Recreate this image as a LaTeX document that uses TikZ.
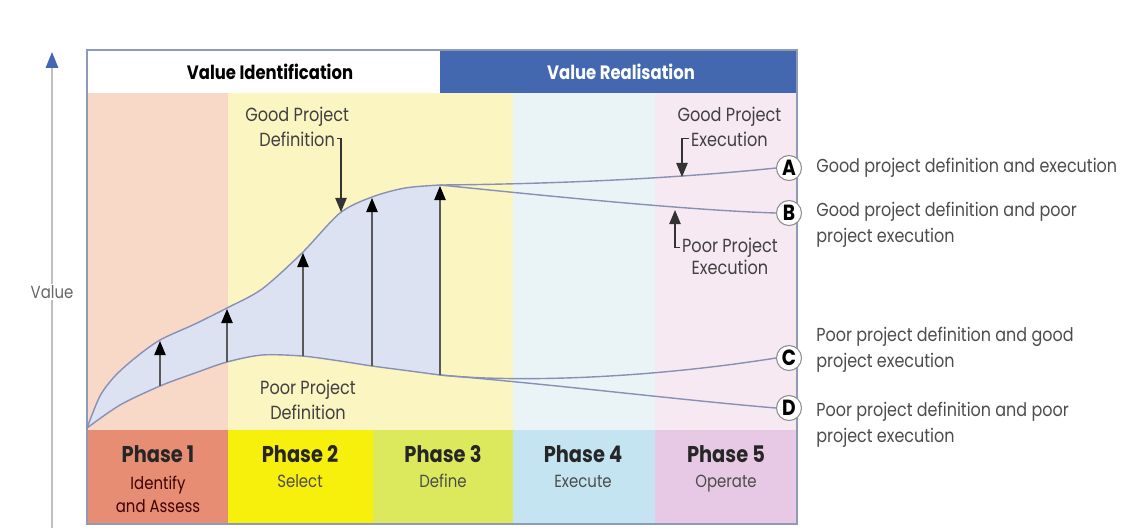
\documentclass[tikz,border=0pt]{standalone}
\usepackage{fontspec}
\setmainfont{Poppins}[FakeStretch=0.85]
\usetikzlibrary{arrows.meta,positioning}
\definecolor{headblue}{HTML}{4468B0}
\definecolor{ph1light}{HTML}{F8D9C8}
\definecolor{ph2light}{HTML}{FBF5C2}
\definecolor{ph4light}{HTML}{EAF4F7}
\definecolor{ph5light}{HTML}{F6E9F1}
\definecolor{ph1col}{HTML}{E68D74}
\definecolor{ph2col}{HTML}{F7EF0C}
\definecolor{ph3col}{HTML}{DCE95C}
\definecolor{ph4col}{HTML}{C3E4F0}
\definecolor{ph5col}{HTML}{E7C9E5}
\definecolor{bandcol}{HTML}{DDE2F3}
\definecolor{linecol}{HTML}{8890B4}
\definecolor{framecol}{HTML}{8E9ABA}

\begin{document}
\begin{tikzpicture}[x=0.02cm, y=-0.02cm,
    curve/.style={linecol, line width=0.8pt},
    rise/.style={black!65, line width=0.6pt, -{Triangle[length=8pt,width=6.5pt,color=black]}},
    lead/.style={black!80, line width=0.6pt, -{Triangle[length=8pt,width=6.5pt]}},
    axis/.style={black!25, line width=1pt, -{Triangle[length=9pt,width=7pt,color=headblue]}},
    endmark/.style={circle, draw=black!45, fill=white, line width=0.6pt, inner sep=0pt,
        minimum size=0.5cm, font=\bfseries\fontsize{12.5}{13}\selectfont},
    note/.style={font=\fontsize{10.8}{14}\selectfont, text=black!75, align=center, inner sep=1pt},
    caption/.style={font=\fontsize{10.7}{14.8}\selectfont, text=black!70, align=left, anchor=west, inner sep=0pt},
    headtext/.style={font=\bfseries\fontsize{11}{13}\selectfont},
    phasetitle/.style={font=\bfseries\fontsize{13}{15}\selectfont, text=black!85, anchor=base},
    phasesub/.style={font=\fontsize{10}{13}\selectfont, text=black!70, align=center, anchor=base}]

\useasboundingbox (0,0) rectangle (1137,529);

% upper part of the phases
\fill[ph1light] (87,93) rectangle (228,430);
\fill[ph2light] (228,93) rectangle (513,430);
\fill[ph4light] (513,93) rectangle (655,430);
\fill[ph5light] (655,93) rectangle (797,430);

% phase bands
\fill[ph1col] (87,430) rectangle (228,524);
\fill[ph2col] (228,430) rectangle (373,524);
\fill[ph3col] (373,430) rectangle (513,524);
\fill[ph4col] (513,430) rectangle (655,524);
\fill[ph5col] (655,430) rectangle (797,524);

% header
\fill[white] (87,50) rectangle (440,93);
\fill[headblue] (440,50) rectangle (797,93);
\draw[framecol, line width=0.6pt] (87,50) rectangle (797,524);

\node[headtext] (vid) at (270,72) {Value Identification};
\node[headtext, text=white] (vre) at (621,72) {Value Realisation};

% value axis
\coordinate (axbot) at (52,528);
\coordinate (axtop) at (52,52);
\draw[axis] (axbot) -- (axtop);
\node[fill=white, inner sep=1pt, text=black!60, font=\fontsize{10}{12}\selectfont] (vlab) at (52,292) {Value};

% value band between good and poor definition
\fill[bandcol] plot[smooth] coordinates {(87,428) (100,396) (115,376) (135,358) (160,340) (195,324) (227,308) (262,289) (302,253) (340,213) (372,197) (405,188) (440,185)}
    -- plot[smooth] coordinates {(440,375) (410,371) (372,366) (340,361) (302,356) (262,355) (227,362) (195,373) (160,386) (120,405) (87,428)} -- cycle;
\draw[curve] plot[smooth] coordinates {(87,428) (100,396) (115,376) (135,358) (160,340) (195,324) (227,308) (262,289) (302,253) (340,213) (372,197) (405,188) (440,185)};
\draw[curve] plot[smooth] coordinates {(87,428) (120,405) (160,386) (195,373) (227,362) (262,355) (302,356) (340,361) (372,366) (410,371) (440,375)};

\coordinate (gsplit) at (440,185);
\coordinate (psplit) at (440,375);

% outcomes
\node[endmark] (ca) at (789,168) {A};
\node[endmark] (cb) at (789,213) {B};
\node[endmark] (cc) at (789,358) {C};
\node[endmark] (cd) at (789,408) {D};

\draw[curve] (gsplit) .. controls (560,184) and (680,178) .. (ca.west);
\draw[curve] (gsplit) .. controls (520,193) and (680,210) .. (cb.west);
\draw[curve] (psplit) .. controls (520,383) and (650,378) .. (cc.west);
\draw[curve] (psplit) .. controls (560,385) and (680,400) .. (cd.west);

% value gained by good definition
\coordinate (l1) at (160,386); \coordinate (u1) at (160,341);
\coordinate (l2) at (227,362); \coordinate (u2) at (227,309);
\coordinate (l3) at (303,356); \coordinate (u3) at (303,253);
\coordinate (l4) at (372,366); \coordinate (u4) at (372,198);
\coordinate (l5) at (440,375); \coordinate (u5) at (440,186);
\draw[rise] (l1) -- (u1);
\draw[rise] (l2) -- (u2);
\draw[rise] (l3) -- (u3);
\draw[rise] (l4) -- (u4);
\draw[rise] (l5) -- (u5);

% notes
\node[note, anchor=base east] (gpd2) at (337,146) {Definition};
\node[note, anchor=base] (gpd1) at ([yshift=14pt]gpd2.base) {Good Project};
\coordinate (gdtip) at (341,212);
\draw[lead] (gpd2.east) -| (gdtip);

\node[note, anchor=base west] (gpe2) at (689,146) {Execution};
\node[note, anchor=base] (gpe1) at ([yshift=14pt]gpe2.base) {Good Project};
\coordinate (getip) at (682,177);
\draw[lead] (gpe2.west) -| (getip);

\node[note, anchor=base west] (ppe1) at (680,252) {Poor Project};
\node[note, anchor=base] (ppe2) at ([yshift=-13pt]ppe1.base) {Execution};
\coordinate (petip) at (675,210);
\draw[lead] (ppe1.west) -| (petip);

\node[note] (ppd) at (308,400) {Poor Project\\Definition};

% captions
\node[caption] (capa) at (816,168) {Good project definition and execution};
\node[caption] (capb) at (816,225) {Good project definition and poor\\project execution};
\node[caption] (capc) at (816,350) {Poor project definition and good\\project execution};
\node[caption] (capd) at (816,425) {Poor project definition and poor\\project execution};

% phases
\node[phasetitle] (p1) at (158,462) {Phase 1};
\node[phasetitle] (p2) at (300,462) {Phase 2};
\node[phasetitle] (p3) at (443,462) {Phase 3};
\node[phasetitle] (p4) at (583,462) {Phase 4};
\node[phasetitle] (p5) at (726,462) {Phase 5};
\node[phasesub, anchor=center, text=black!75!red] (s1) at (158,494) {Identify\\and Assess};
\node[phasesub] (s2) at (300,487) {Select};
\node[phasesub] (s3) at (443,487) {Define};
\node[phasesub] (s4) at (583,487) {Execute};
\node[phasesub] (s5) at (726,487) {Operate};
\end{tikzpicture}
\end{document}
